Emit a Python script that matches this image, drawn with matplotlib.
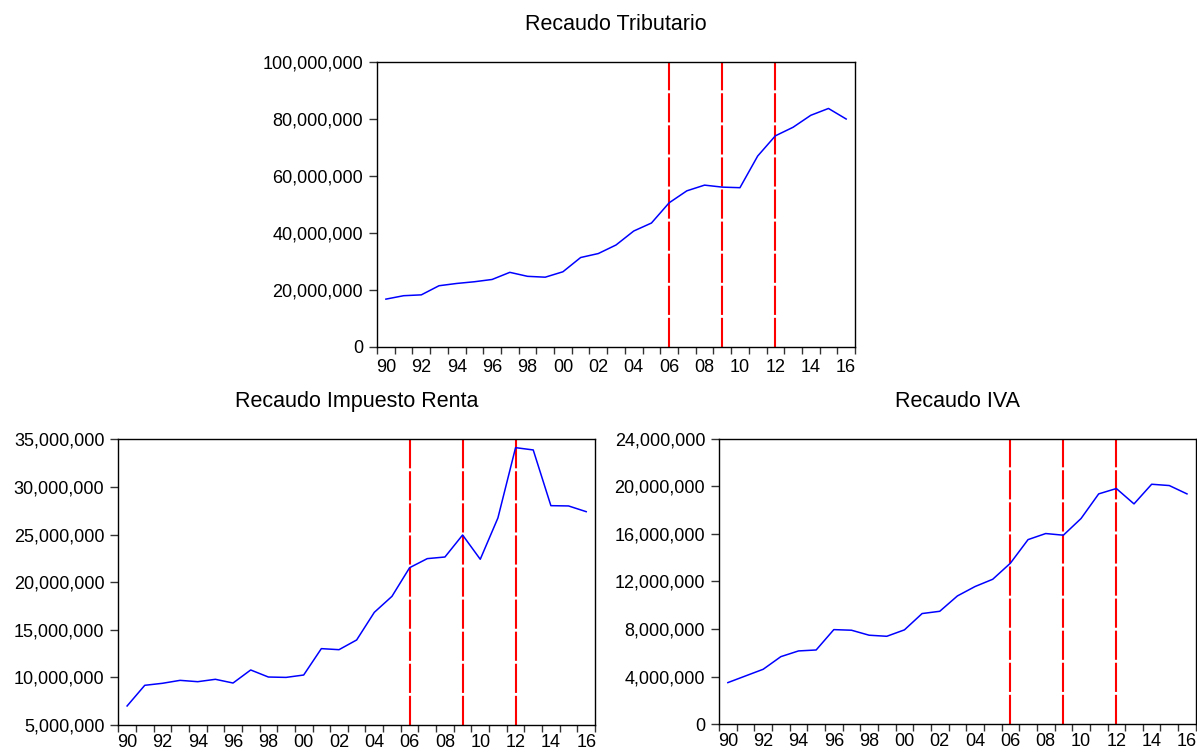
import matplotlib
matplotlib.use("Agg")
import matplotlib.pyplot as plt
from matplotlib.ticker import FuncFormatter, FixedLocator
import numpy as np

plt.rcParams['font.family'] = ['Liberation Sans', 'DejaVu Sans']
plt.rcParams['font.size'] = 13

years = list(range(1990, 2017))

tributario = [16.7, 17.9, 18.2, 21.4, 22.2, 22.8, 23.6, 26.1, 24.7, 24.4,
              26.3, 31.3, 32.7, 35.7, 40.6, 43.4, 50.5, 54.7, 56.7, 56.0,
              55.8, 66.9, 74.0, 77.0, 81.2, 83.6, 79.9]
renta = [7.0, 9.17, 9.38, 9.69, 9.55, 9.8, 9.41, 10.78, 10.04, 10.0,
         10.25, 13.02, 12.91, 13.93, 16.83, 18.51, 21.52, 22.47, 22.64, 24.95,
         22.40, 26.74, 34.12, 33.88, 28.03, 28.0, 27.40]
iva = [3.50, 4.06, 4.62, 5.68, 6.16, 6.24, 7.95, 7.90, 7.48, 7.39,
       7.93, 9.30, 9.49, 10.78, 11.57, 12.18, 13.53, 15.51, 16.02, 15.88,
       17.28, 19.35, 19.80, 18.51, 20.16, 20.05, 19.35]

break_years = [2006, 2009, 2012]

titles = ["Recaudo Tributario", "Recaudo Impuesto Renta", "Recaudo IVA"]
series = [tributario, renta, iva]
ylims = [(0, 100e6), (5e6, 35e6), (0, 24e6)]
ysteps = [20e6, 5e6, 4e6]
xpads = [8.5, 6.5, 6.5]

fig = plt.figure(figsize=(11.97, 7.5), dpi=100)
rects = [[0.3150, 0.5377, 0.3993, 0.380],
         [0.0988, 0.0333, 0.3983, 0.381],
         [0.6007, 0.0343, 0.3983, 0.381]]

fmt = FuncFormatter(lambda v, p: f"{v:,.0f}")

for rect, title, vals, ylim, ystep, xpad in zip(rects, titles, series, ylims, ysteps, xpads):
    ax = fig.add_axes(rect)
    ax.plot(years, np.array(vals) * 1e6, color='#0000ff', lw=1.1, zorder=3)
    for by in break_years:
        ax.axvline(by, color='#ff0000', lw=1.5, linestyle=(0, (14, 1.4)), zorder=2)
    ax.set_xlim(1989.5, 2016.5)
    ax.set_ylim(*ylim)
    ax.yaxis.set_major_locator(FixedLocator(np.arange(ylim[0], ylim[1] + 1, ystep)))
    ax.yaxis.set_major_formatter(fmt)
    even = [y for y in years if y % 2 == 0]
    ax.set_xticks(even)
    ax.set_xticklabels([f"{y % 100:02d}" for y in even])
    ax.set_xticks(np.arange(1989.5, 2017, 1.0), minor=True)
    ax.tick_params(axis='x', which='major', length=0, pad=xpad, labelsize=13)
    ax.tick_params(axis='x', which='minor', length=5, width=1, direction='out', color='#333333')
    ax.tick_params(axis='y', which='major', length=6, width=1, direction='out', pad=4,
                   labelsize=13, color='#333333')
    for s in ax.spines.values():
        s.set_linewidth(1.0)
        s.set_color('black')
    ax.set_title(title, fontsize=15.5, pad=23)

fig.savefig("out.png", dpi=100)
